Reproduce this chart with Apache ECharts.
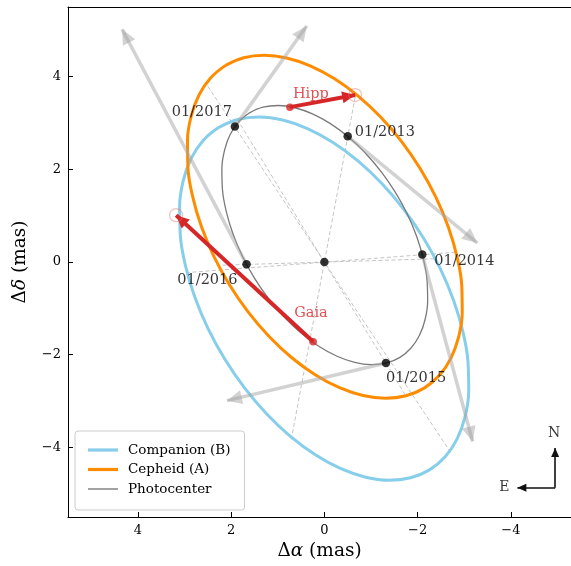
<!DOCTYPE html>
<html>
<head>
<meta charset="utf-8">
<script src="https://cdn.jsdelivr.net/npm/echarts@6/dist/echarts.min.js"></script>
<style>
  html, body { margin: 0; padding: 0; background: #fff; }
  #chart { width: 571px; height: 566px; }
</style>
</head>
<body>
<div id="chart"></div>
<script>
// tick values (mas)
const xTicks = [4, 2, 0, -2, -4];
const yTicks = [-4, -2, 0, 2, 4];

// orbits around the barycentre, [dRA, dDec] in mas
const cepheidOrbit = [
  [2.119, 4.241], [1.731, 4.405], [1.290, 4.459], [0.810, 4.400], [0.304, 4.231], [-0.210, 3.956],
  [-0.719, 3.585], [-1.206, 3.127], [-1.657, 2.597], [-2.057, 2.012], [-2.396, 1.389], [-2.662, 0.746],
  [-2.847, 0.104], [-2.947, -0.518], [-2.957, -1.101], [-2.877, -1.628], [-2.710, -2.083], [-2.462, -2.450],
  [-2.139, -2.721], [-1.751, -2.885], [-1.310, -2.939], [-0.830, -2.880], [-0.324, -2.711], [0.190, -2.436],
  [0.699, -2.065], [1.186, -1.607], [1.637, -1.077], [2.037, -0.492], [2.376, 0.131], [2.642, 0.774],
  [2.827, 1.416], [2.927, 2.038], [2.937, 2.621], [2.857, 3.148], [2.690, 3.603], [2.442, 3.970],
  [2.119, 4.241]
];
const companionOrbit = [
  [2.264, 2.904], [1.859, 3.074], [1.398, 3.127], [0.895, 3.061], [0.364, 2.878], [-0.177, 2.584],
  [-0.713, 2.187], [-1.227, 1.699], [-1.703, 1.136], [-2.128, 0.514], [-2.488, -0.147], [-2.772, -0.828],
  [-2.972, -1.508], [-3.081, -2.165], [-3.096, -2.781], [-3.018, -3.337], [-2.847, -3.815], [-2.590, -4.201],
  [-2.254, -4.484], [-1.849, -4.654], [-1.388, -4.707], [-0.885, -4.641], [-0.354, -4.458], [0.187, -4.164],
  [0.723, -3.767], [1.237, -3.279], [1.713, -2.716], [2.138, -2.094], [2.498, -1.433], [2.782, -0.752],
  [2.982, -0.073], [3.091, 0.585], [3.106, 1.201], [3.028, 1.757], [2.857, 2.235], [2.600, 2.621],
  [2.264, 2.904]
];
const photocenterOrbit = [
  [1.605, 3.218], [1.318, 3.338], [0.990, 3.375], [0.633, 3.327], [0.256, 3.195], [-0.129, 2.984],
  [-0.511, 2.700], [-0.877, 2.352], [-1.217, 1.949], [-1.520, 1.506], [-1.777, 1.034], [-1.980, 0.548],
  [-2.123, 0.063], [-2.203, -0.406], [-2.215, -0.845], [-2.160, -1.240], [-2.040, -1.581], [-1.859, -1.855],
  [-1.621, -2.056], [-1.334, -2.176], [-1.006, -2.213], [-0.649, -2.165], [-0.272, -2.033], [0.113, -1.822],
  [0.495, -1.538], [0.861, -1.190], [1.201, -0.787], [1.504, -0.344], [1.761, 0.128], [1.964, 0.614],
  [2.107, 1.099], [2.187, 1.568], [2.199, 2.007], [2.144, 2.402], [2.024, 2.743], [1.843, 3.017],
  [1.605, 3.218]
];

// epochs
const epochs = ['01/2013', '01/2014', '01/2015', '01/2016', '01/2017'];
const epochPhotocenter = [[-0.50, 2.71], [-2.10, 0.16], [-1.32, -2.18], [1.67, -0.05], [1.92, 2.92]];
const epochCepheid = [[-0.67, 3.61], [-2.80, 0.21], [-1.76, -2.91], [2.23, -0.07], [2.56, 3.88]];
const epochCompanion = [[0.71, -3.83], [2.97, -0.23], [1.87, 3.08], [-2.36, 0.07], [-2.71, -4.11]];
const epochArrowTip = [[-3.28, 0.41], [-3.18, -3.87], [2.09, -2.99], [4.34, 5.02], [0.38, 5.09]];
const barycentre = [0, 0];

// proper-motion anomaly vectors
const pmNames = ['Hipp', 'Gaia'];
const pmFrom = [[0.74, 3.34], [0.24, -1.72]];
const pmTo = [[-0.66, 3.60], [3.18, 1.01]];

// orientation marker
const compassOrigin = [-4.95, -4.87];
const compassNorth = [-4.95, -4.01];
const compassEast = [-4.14, -4.87];

const serif = "'DejaVu Serif', serif";
const fmtTick = v => (v < 0 ? '\u2212' + Math.abs(v) : String(v));
// triangle head, box centred on the tip
const head = 'path://M5,0 L10,12 L0,12 Z M5,-12 L5,-12';

const labelAlign = ['left', 'left', 'left', 'right', 'right'];
const labelOffset = [[7, -4], [12, 7], [0, 15], [-9, 16], [-3, -14]];
const pmLabelOffset = [[3, -13], [-19, -29]];

const nameStyle = {
  rich: {
    a: { fontFamily: serif, fontSize: 18.5, color: '#000' },
    b: { fontFamily: serif, fontSize: 18.5, fontStyle: 'italic', color: '#000' }
  }
};

const chart = echarts.init(document.getElementById('chart'));
chart.setOption({
  animation: false,
  grid: { left: 68, top: 7, right: 0, height: 510 },
  xAxis: [{
    type: 'value', inverse: true, min: -5.29, max: 5.5,
    axisLine: { onZero: false, lineStyle: { color: '#000', width: 1 } },
    axisTick: { inside: true, length: 5, customValues: xTicks, lineStyle: { color: '#000' } },
    axisLabel: { customValues: xTicks, formatter: fmtTick, color: '#000', fontFamily: serif, fontSize: 13, margin: 7 },
    splitLine: { show: false },
    name: '{a|\u0394}{b|\u03b1}{a| (mas)}', nameLocation: 'middle', nameGap: 21,
    nameTextStyle: nameStyle
  }, {
    type: 'value', position: 'top', inverse: true, min: -5.29, max: 5.5,
    axisLine: { onZero: false, lineStyle: { color: '#000', width: 1 } },
    axisTick: { show: false }, axisLabel: { show: false }, splitLine: { show: false }
  }],
  yAxis: {
    type: 'value', min: -5.5, max: 5.5,
    axisLine: { onZero: false, lineStyle: { color: '#000', width: 1 } },
    axisTick: { inside: true, length: 5, customValues: yTicks, lineStyle: { color: '#000' } },
    axisLabel: { customValues: yTicks, formatter: fmtTick, color: '#000', fontFamily: serif, fontSize: 13, margin: 7 },
    splitLine: { show: false },
    name: '{a|\u0394}{b|\u03b4}{a| (mas)}', nameLocation: 'middle', nameGap: 38, nameRotate: 90,
    nameTextStyle: nameStyle
  },
  legend: {
    left: 75, top: 431, orient: 'vertical',
    backgroundColor: '#fff', borderColor: '#ccc', borderWidth: 1, borderRadius: 3,
    padding: [12, 14, 14, 13], itemWidth: 30, itemHeight: 14, itemGap: 5.5,
    textStyle: { fontFamily: serif, fontSize: 13.5, color: '#000', padding: [0, 0, 0, 5] },
    data: [
      { name: 'Companion (B)', icon: 'path://M0,0 L30,0 L30,3.2 L0,3.2 Z' },
      { name: 'Cepheid (A)', icon: 'path://M0,0 L30,0 L30,3.2 L0,3.2 Z' },
      { name: 'Photocenter', icon: 'path://M0,0 L30,0 L30,1.4 L0,1.4 Z' }
    ]
  },
  series: [
    {
      type: 'lines', coordinateSystem: 'cartesian2d', silent: true, z: 1,
      symbol: 'none',
      lineStyle: { color: '#bdbdbd', width: 0.9, type: [4, 2.5], opacity: 1 },
      data: epochs.map((e, i) => ({ coords: [epochCompanion[i], epochCepheid[i]] }))
    },
    {
      type: 'line', name: 'Companion (B)', data: companionOrbit, symbol: 'none', smooth: 0.4, z: 2,
      color: '#87ceeb', lineStyle: { color: '#87ceeb', width: 3 }
    },
    {
      type: 'line', name: 'Cepheid (A)', data: cepheidOrbit, symbol: 'none', smooth: 0.4, z: 2,
      color: '#ff8c00', lineStyle: { color: '#ff8c00', width: 3 }
    },
    {
      type: 'line', name: 'Photocenter', data: photocenterOrbit, symbol: 'none', smooth: 0.4, z: 2,
      color: '#7a7a7a', lineStyle: { color: '#7a7a7a', width: 1.3 }
    },
    {
      type: 'lines', coordinateSystem: 'cartesian2d', silent: true, z: 3,
      symbol: ['none', head], symbolSize: [0, [14, 30]],
      lineStyle: { color: 'rgba(165,165,165,0.5)', width: 3.5, opacity: 1 },
      data: epochs.map((e, i) => ({ coords: [epochPhotocenter[i], epochArrowTip[i]] }))
    },
    {
      type: 'lines', coordinateSystem: 'cartesian2d', silent: true, z: 4,
      symbol: ['none', head], symbolSize: [0, [12, 26]],
      lineStyle: { color: '#d62728', width: 4, opacity: 1 },
      data: pmNames.map((n, i) => ({ coords: [pmFrom[i], pmTo[i]] }))
    },
    {
      type: 'scatter', silent: true, z: 5, symbolSize: 13,
      itemStyle: { color: 'rgba(0,0,0,0)', borderColor: 'rgba(226,110,110,0.55)', borderWidth: 1.2 },
      data: pmTo
    },
    {
      type: 'scatter', silent: true, z: 5, symbolSize: 7.5,
      itemStyle: { color: '#d62728' },
      label: { show: true, position: 'inside', verticalAlign: 'middle', align: 'left', formatter: '{b}',
        fontFamily: serif, fontSize: 14.5, color: '#d62728' },
      data: pmNames.map((n, i) => ({ name: n, value: pmFrom[i], label: { offset: pmLabelOffset[i] } }))
    },
    {
      type: 'scatter', silent: true, z: 6, symbolSize: 8.5,
      itemStyle: { color: '#000' },
      label: { show: true, position: 'inside', verticalAlign: 'middle', formatter: '{b}',
        fontFamily: serif, fontSize: 14.5, color: '#000' },
      data: epochs.map((e, i) => ({
        name: e, value: epochPhotocenter[i],
        label: { align: labelAlign[i], offset: labelOffset[i] }
      })).concat([{ name: '', value: barycentre, label: { show: false } }])
    },
    {
      type: 'lines', coordinateSystem: 'cartesian2d', silent: true, z: 6,
      symbol: ['none', head], symbolSize: [0, [8, 18]],
      lineStyle: { color: '#111', width: 1.6, opacity: 1 },
      data: [{ coords: [compassOrigin, compassNorth] }, { coords: [compassOrigin, compassEast] }]
    },
    {
      type: 'scatter', silent: true, z: 6, symbolSize: 1,
      itemStyle: { color: 'rgba(0,0,0,0)' },
      label: { show: true, position: 'inside', formatter: '{b}', fontFamily: serif, fontSize: 14, color: '#000' },
      data: [
        { name: 'N', value: compassNorth, label: { offset: [-1, -15] } },
        { name: 'E', value: compassEast, label: { offset: [-13, 0] } }
      ]
    }
  ]
});
</script>
</body>
</html>
